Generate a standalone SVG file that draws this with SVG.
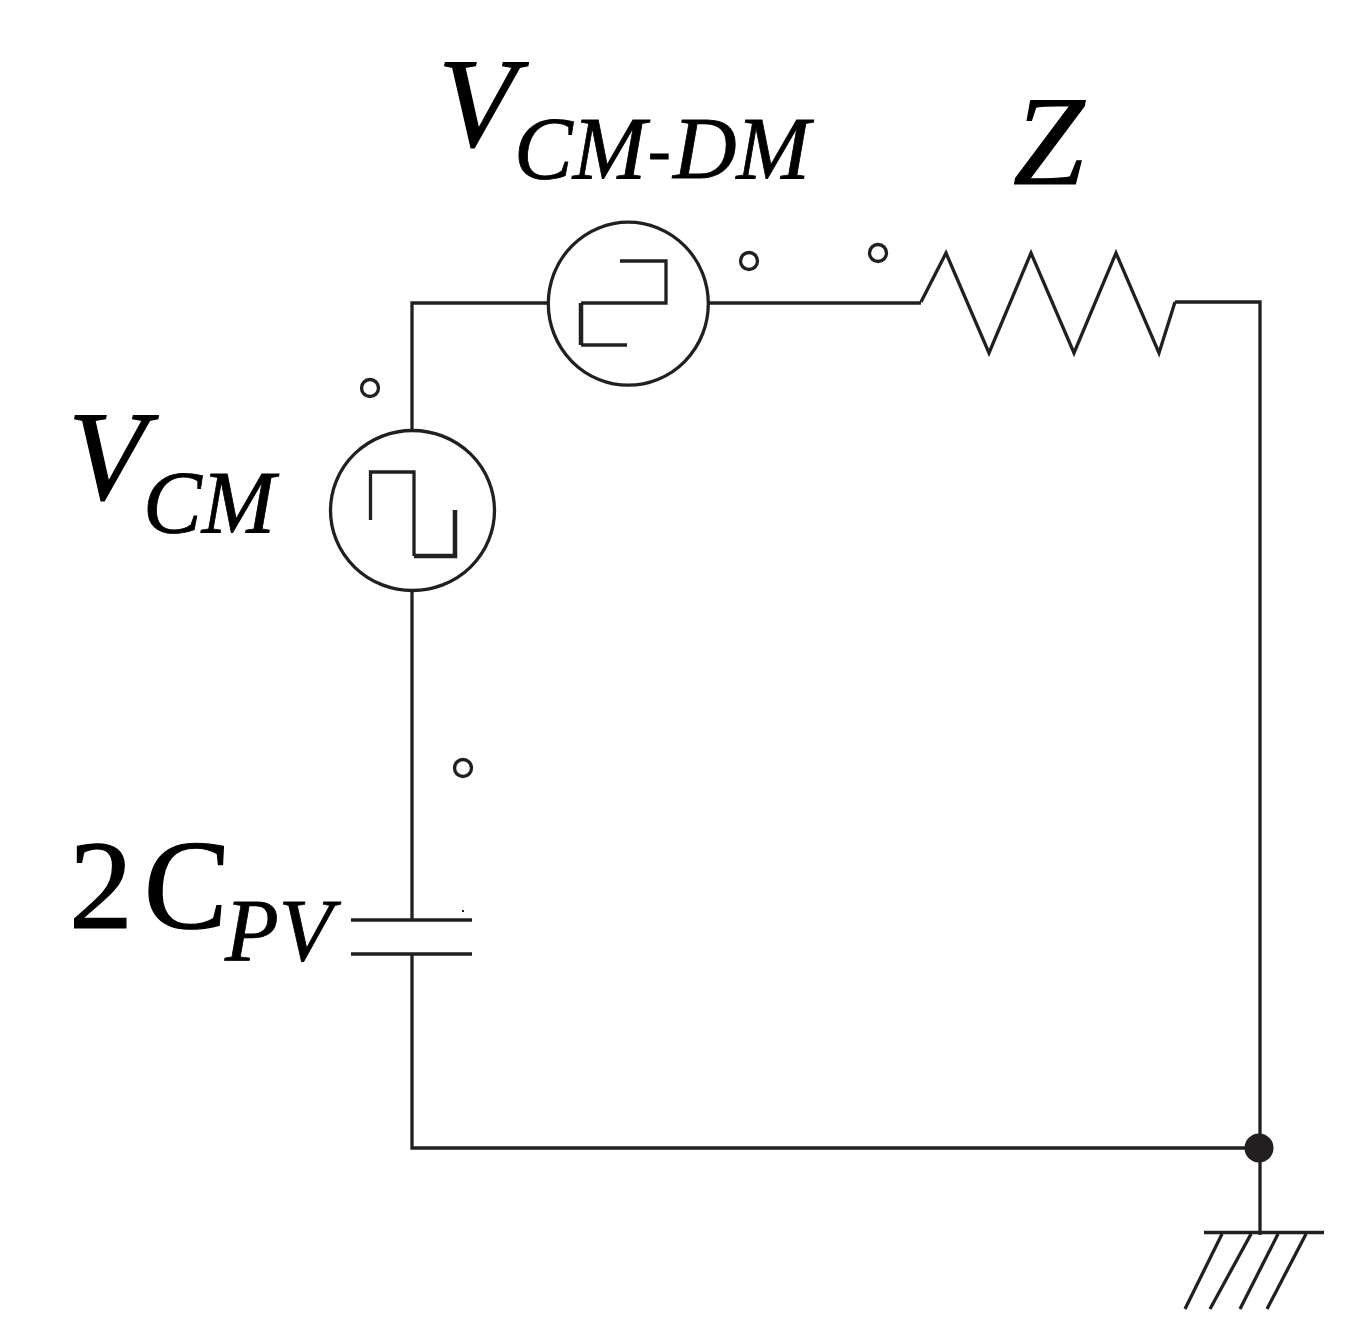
<svg xmlns="http://www.w3.org/2000/svg" width="1360" height="1341" viewBox="0 0 1360 1341">
<style>
.w{fill:none;stroke:#231f20;stroke-width:3.300}
.h{fill:none;stroke:#231f20;stroke-width:4.500}
.o{fill:#fff;stroke:#231f20;stroke-width:3.300}
text{font-family:"Liberation Serif",serif;font-style:italic;fill:#000;stroke:#000;stroke-width:1.200}
.b{font-size:128px}
.r{font-size:128px;font-style:normal}
.s{font-size:88px;stroke-width:.8px}
</style>
<rect width="1360" height="1341" fill="#fff"/>
<g id="connectors">
<path class="w" d="M412 432V303H549M708 303H921M1175 302H1260V1235M412 590V920M412 954V1148H1260"/>
</g>
<g id="vcm"><ellipse class="o" cx="412.500" cy="510.500" rx="82" ry="80"/><path class="w" d="M370.500 520V472H414V556"/><path class="h" d="M414 556H455V510"/>
<text class="b" x="68" y="499">V</text><text class="s" x="143" y="532">CM</text></g>
<g id="vcmdm"><ellipse class="o" cx="628.300" cy="303.700" rx="80" ry="81.500"/><path class="w" d="M620 261H666V303H581"/><path class="h" d="M581 303V345"/><path class="w" d="M581 345H627"/>
<text class="b" x="438" y="146">V</text><text class="s" x="514" y="178">CM<tspan x="648" y="172" font-size="68">-</tspan><tspan x="673" y="178">DM</tspan></text></g>
<g id="z"><path class="w" d="M921 302L946 253L989 353L1031 253L1074 353L1116 253L1159 353L1175 302"/>
<text class="b" x="1013" y="184">Z</text></g>
<g id="cap"><path class="w" d="M351 920H472M351 954H472"/><rect x="462" y="910" width="2" height="2" fill="#231f20"/>
<text class="r" x="69" y="928">2</text><text class="r" transform="translate(141 928) skewX(-4)" x="0" y="0">C</text><text class="s" x="225" y="960">PV</text></g>
<g id="ground"><circle cx="1259" cy="1148" r="14.500" fill="#231f20"/><path class="w" d="M1204 1232.500H1324M1222 1234L1185 1309M1251 1234L1210 1309M1278 1234L1240 1309M1306 1234L1267 1309"/></g>
<g id="terminals"><circle class="w" cx="370" cy="388" r="8.500"/><circle class="w" cx="749" cy="261" r="8.500"/><circle class="w" cx="878" cy="253" r="8.500"/><circle class="w" cx="463" cy="768" r="8.500"/></g>
</svg>
